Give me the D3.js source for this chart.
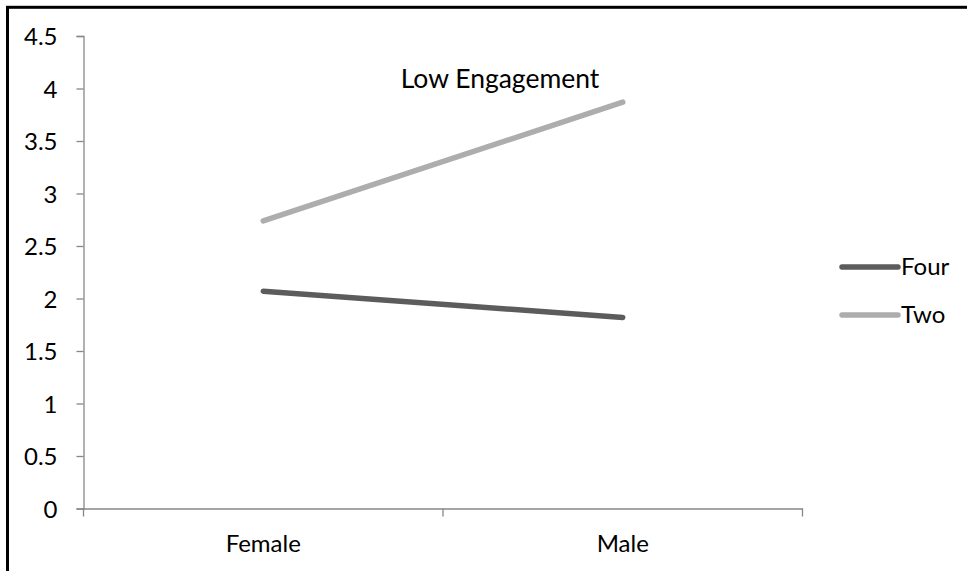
<!DOCTYPE html>
<html>
<head>
<meta charset="utf-8">
<script src="https://cdn.jsdelivr.net/npm/d3@7"></script>
<style>
  html, body { margin: 0; padding: 0; background: #fff; }
  svg { display: block; }
  text { font-family: Lato, "Open Sans", sans-serif; fill: #000; }
</style>
</head>
<body>
<svg id="chart" width="967" height="571"></svg>
<script>
// Interaction plot: engagement score by gender for two groups
const categories = ["Female", "Male"];
const seriesNames = ["Four", "Two"];
const fourValues = [2.07, 1.82];
const twoValues = [2.74, 3.87];
const yTicks = [0, 0.5, 1, 1.5, 2, 2.5, 3, 3.5, 4, 4.5];
const chartTitle = "Low Engagement";

const series = [
  { name: seriesNames[0], values: fourValues, color: "#5c5c5c" },
  { name: seriesNames[1], values: twoValues, color: "#adadad" }
];

const svg = d3.select("#chart");
const plot = { left: 83.5, right: 802.5, top: 36, bottom: 508.5 };
const axisColor = "#878787";
const fontSize = 24;

// Outer frame (only top and left edges fall inside the canvas)
svg.append("rect")
  .attr("x", 7.5).attr("y", 7.3)
  .attr("width", 1000).attr("height", 600)
  .attr("fill", "none").attr("stroke", "#000").attr("stroke-width", 3);

const x = d3.scaleBand().domain(categories).range([plot.left, plot.right]).padding(0);
const y = d3.scaleLinear().domain([0, 4.5]).range([plot.bottom, plot.top]);

// Y axis
const yAxis = svg.append("g")
  .attr("transform", `translate(${plot.left},0)`)
  .call(d3.axisLeft(y).tickValues(yTicks).tickSize(7).tickPadding(19).tickFormat(d3.format("")));
yAxis.select(".domain").attr("stroke", axisColor).attr("stroke-width", 1.3);
yAxis.selectAll(".tick line").attr("stroke", axisColor).attr("stroke-width", 1.3);
yAxis.selectAll(".tick text")
  .style("font-size", fontSize + "px").attr("fill", "#000").attr("dy", "0.36em");

// X axis: labels centred in each category, tick marks on the boundaries
const xAxis = svg.append("g")
  .attr("transform", `translate(0,${plot.bottom})`)
  .call(d3.axisBottom(x).tickSize(0).tickPadding(0).tickSizeOuter(0));
xAxis.select(".domain").attr("stroke", axisColor).attr("stroke-width", 1.3);
xAxis.selectAll(".tick text")
  .style("font-size", fontSize + "px").attr("fill", "#000")
  .attr("y", 43).attr("dy", 0);

const boundaries = categories.map(c => x(c)).concat([x(categories[categories.length - 1]) + x.bandwidth()]);
xAxis.selectAll("line.boundary")
  .data(boundaries)
  .join("line")
  .attr("class", "boundary")
  .attr("x1", d => d).attr("x2", d => d)
  .attr("y1", 0).attr("y2", 8)
  .attr("stroke", axisColor).attr("stroke-width", 1.3);

// Series lines
const line = d3.line()
  .x((d, i) => x(categories[i]) + x.bandwidth() / 2)
  .y(d => y(d));

svg.append("g").selectAll("path")
  .data(series)
  .join("path")
  .attr("d", d => line(d.values))
  .attr("fill", "none")
  .attr("stroke", d => d.color)
  .attr("stroke-width", 5.5)
  .attr("stroke-linecap", "round");

// Title
svg.append("text")
  .attr("x", 500).attr("y", 88)
  .attr("text-anchor", "middle")
  .style("font-size", "26.5px")
  .text(chartTitle);

// Legend
const legend = svg.append("g").selectAll("g")
  .data(series)
  .join("g")
  .attr("transform", (d, i) => `translate(842,${267 + i * 48})`);
legend.append("line")
  .attr("x1", 0).attr("x2", 56)
  .attr("stroke", d => d.color)
  .attr("stroke-width", 5.5)
  .attr("stroke-linecap", "round");
legend.append("text")
  .attr("x", 59).attr("y", 0).attr("dy", "0.35em")
  .style("font-size", fontSize + "px")
  .text(d => d.name);
</script>
</body>
</html>
